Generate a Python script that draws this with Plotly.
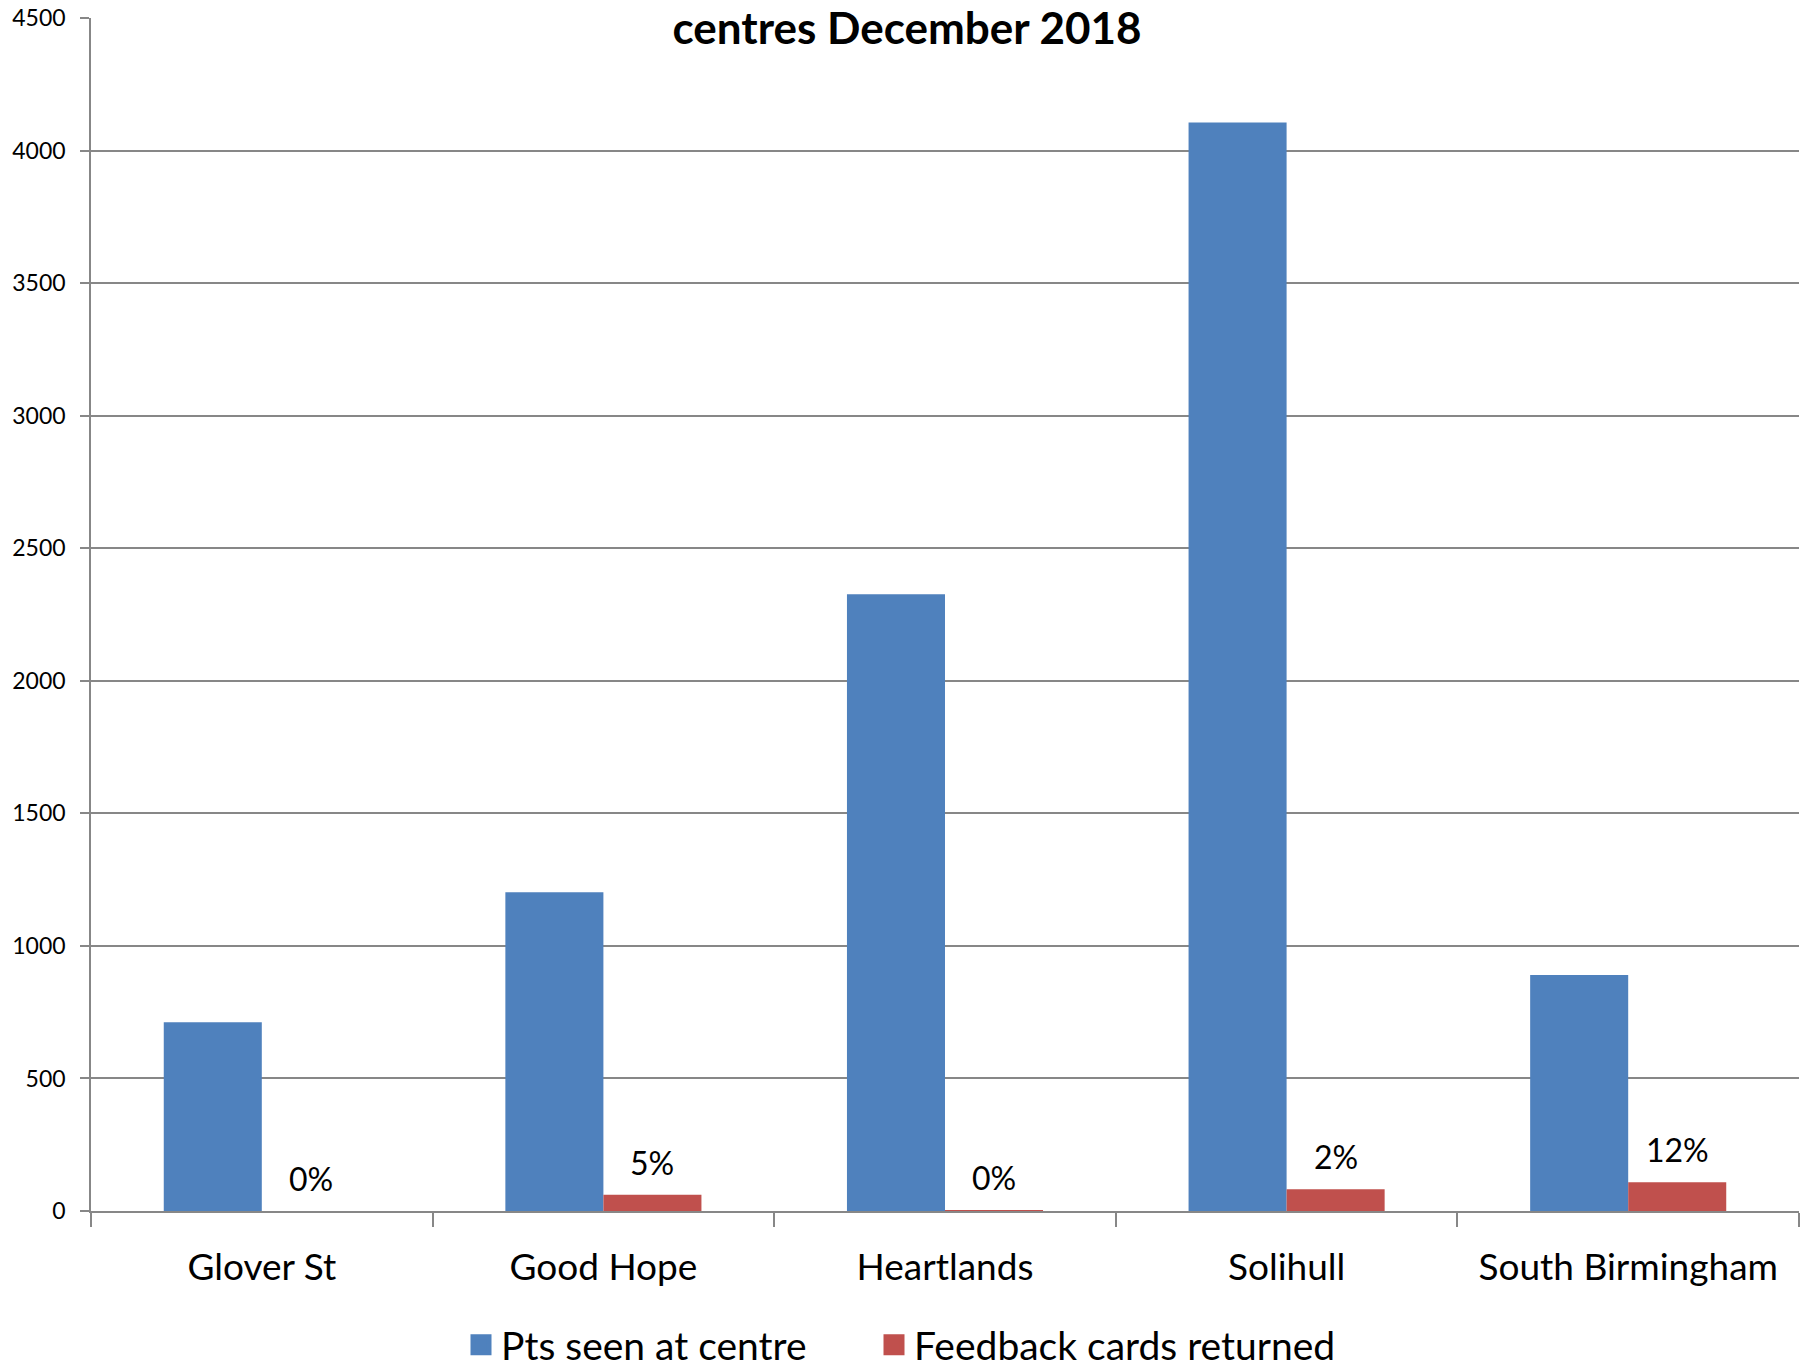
import plotly.graph_objects as go

categories = ["Glover St", "Good Hope", "Heartlands", "Solihull", "South Birmingham"]
pts_seen = [712, 1202, 2326, 4106, 890]
cards_returned = [0, 61, 3, 82, 108]
cards_pct_labels = ["0%", "5%", "0%", "2%", "12%"]
y_ticks = [0, 500, 1000, 1500, 2000, 2500, 3000, 3500, 4000, 4500]

series_names = ["Pts seen at centre", "Feedback cards returned"]
BLUE = "#4F81BD"
RED = "#C0504D"
GRID = "#878787"
FONT = "Lato"
BARGAP = 0.426

W, H = 1805, 1367
PLOT_L, PLOT_R, PLOT_T, PLOT_B = 91, 1799, 18, 1211   # window pixels
PW, PH = PLOT_R - PLOT_L, PLOT_B - PLOT_T

fig = go.Figure()
fig.add_trace(go.Bar(
    x=categories, y=pts_seen, name=series_names[0],
    marker=dict(color=BLUE, line=dict(width=0)),
    legendgroup="a", showlegend=False,
))
fig.add_trace(go.Bar(
    x=categories, y=cards_returned, name=series_names[1],
    marker=dict(color=RED, line=dict(width=0)),
    legendgroup="b", showlegend=False,
))
# legend entries (larger square symbols), one per legend box
for nm, col, grp, lg in [(series_names[0], BLUE, "a", "legend"),
                         (series_names[1], RED, "b", "legend2")]:
    fig.add_trace(go.Scatter(
        x=[None], y=[None], mode="markers", name=nm, legendgroup=grp, legend=lg,
        marker=dict(symbol="square", size=16, color=col, line=dict(color=col, width=5)),
    ))

# percentage labels above the red bars (second bar of each group)
red_offset = (1 - BARGAP) / 4
for i, (val, lab) in enumerate(zip(cards_returned, cards_pct_labels)):
    fig.add_annotation(
        x=i + red_offset, y=val, xref="x", yref="y",
        text=lab, showarrow=False, xanchor="center", yanchor="bottom",
        yshift=11, font=dict(family=FONT, size=32, color="#000000"),
    )

legend_common = dict(
    orientation="h", xanchor="left",
    y=-(1345 - PLOT_B) / PH, yanchor="middle",
    font=dict(family=FONT, size=39, color="#000000"),
    itemsizing="trace", bgcolor="rgba(0,0,0,0)",
)

fig.update_layout(
    width=W, height=H,
    paper_bgcolor="white", plot_bgcolor="white",
    margin=dict(l=PLOT_L, r=W - PLOT_R, t=PLOT_T, b=H - PLOT_B, autoexpand=False),
    barmode="group", bargap=BARGAP, bargroupgap=0,
    font=dict(family=FONT, color="#000000"),
    title=dict(
        text="<b>centres December 2018</b>",
        font=dict(family=FONT, size=44, color="#000000"),
        x=907 / W, xref="container", xanchor="center",
        y=1 - 29 / H, yref="container", yanchor="middle",
    ),
    showlegend=True,
    legend=dict(x=(461 - PLOT_L) / PW, **legend_common),
    legend2=dict(x=(874 - PLOT_L) / PW, **legend_common),
    xaxis=dict(
        type="category", categoryorder="array", categoryarray=categories,
        tickson="boundaries", ticks="outside", ticklen=14, tickcolor=GRID, tickwidth=1.5,
        showline=True, linecolor=GRID, linewidth=1.5,
        showgrid=False, tickfont=dict(family=FONT, size=37, color="#000000"),
        ticklabelstandoff=23, automargin=False,
    ),
    yaxis=dict(
        range=[0, 4500], tickmode="array", tickvals=y_ticks,
        ticktext=[str(v) for v in y_ticks],
        ticks="outside", ticklen=9, tickcolor=GRID, tickwidth=1.5,
        showline=True, linecolor=GRID, linewidth=1.5,
        showgrid=True, gridcolor=GRID, gridwidth=1.5,
        zeroline=False, ticklabeloverflow="allow",
        tickfont=dict(family=FONT, size=23, color="#000000"),
        ticklabelstandoff=10, automargin=False,
    ),
)

# remove the default 8px page margin so the figure fills the window exactly
fig.write_html(
    "out.html",
    config={"displayModeBar": False},
    post_script="document.body.style.margin='0';",
)
